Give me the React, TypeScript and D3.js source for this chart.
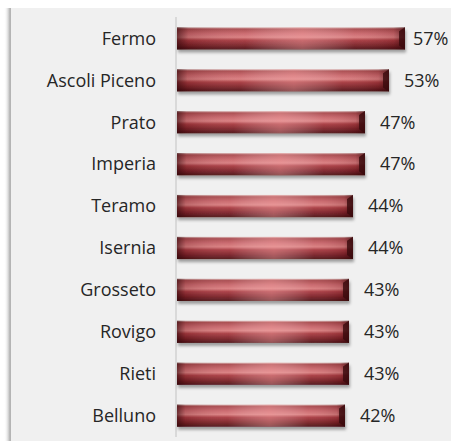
import { useEffect, useRef } from 'react'
import * as d3 from 'd3'

const provinces = ['Fermo', 'Ascoli Piceno', 'Prato', 'Imperia', 'Teramo', 'Isernia', 'Grosseto', 'Rovigo', 'Rieti', 'Belluno']
const shares = [57, 53, 47, 47, 44, 44, 43, 43, 43, 42]

const W = 451
const H = 441

const App = () => {
	const svgRef = useRef(null)

	useEffect(() => {
		const svg = d3.select(svgRef.current)
		svg.selectAll('*').remove()

		const data = provinces.map((p, i) => ({ name: p, value: shares[i] }))

		const defs = svg.append('defs')

		// glossy bar gradient (vertical)
		const vg = defs.append('linearGradient').attr('id', 'barV').attr('x1', 0).attr('y1', 0).attr('x2', 0).attr('y2', 1)
		const vStops = [
			[0, '#dcbcba'],
			[0.08, '#a8484c'],
			[0.28, '#c9656a'],
			[0.45, '#d97c7e'],
			[0.58, '#a83a40'],
			[0.8, '#7c2228'],
			[1, '#4e1216'],
		]
		vStops.forEach(([o, c]) => vg.append('stop').attr('offset', o).attr('stop-color', c))

		// horizontal highlight in the middle, darker ends
		const hg = defs.append('linearGradient').attr('id', 'barH').attr('x1', 0).attr('y1', 0).attr('x2', 1).attr('y2', 0)
		const hStops = [
			[0, '#2a0508', 0.6],
			[0.05, '#2a0508', 0.15],
			[0.3, '#ffffff', 0.05],
			[0.55, '#ffb8b8', 0.4],
			[0.78, '#ffffff', 0.05],
			[0.95, '#2a0508', 0.12],
			[1, '#2a0508', 0.55],
		]
		hStops.forEach(([o, c, a]) =>
			hg.append('stop').attr('offset', o).attr('stop-color', c).attr('stop-opacity', a)
		)

		const shadow = defs.append('filter').attr('id', 'shadow').attr('x', '-5%').attr('y', '-30%').attr('width', '115%').attr('height', '180%')
		shadow.append('feDropShadow').attr('dx', 1).attr('dy', 3).attr('stdDeviation', 1.6).attr('flood-color', '#000').attr('flood-opacity', 0.35)

		const edge = defs.append('linearGradient').attr('id', 'edge').attr('x1', 0).attr('y1', 0).attr('x2', 1).attr('y2', 0)
		edge.append('stop').attr('offset', 0).attr('stop-color', '#ffffff').attr('stop-opacity', 0)
		edge.append('stop').attr('offset', 1).attr('stop-color', '#9a9a9a').attr('stop-opacity', 0.8)

		// background panel
		svg.append('rect').attr('x', 0).attr('y', 0).attr('width', W).attr('height', H).attr('fill', '#ffffff')
		svg.append('rect').attr('x', 4).attr('y', 8).attr('width', 6).attr('height', H - 8).attr('fill', 'url(#edge)')
		svg.append('rect').attr('x', 10).attr('y', 8).attr('width', W - 10).attr('height', H - 8).attr('fill', '#f0f0f0')
		svg.append('line').attr('x1', 10.5).attr('x2', 10.5).attr('y1', 8).attr('y2', H).attr('stroke', '#b4b4b4').attr('stroke-width', 1)

		const y = d3.scaleBand().domain(provinces).range([17, 437]).paddingInner(0.47).paddingOuter(0.245)
		const x = d3.scaleLinear().domain([0, 60]).range([177, 417])

		// category axis line
		svg.append('line')
			.attr('x1', x(0) - 1).attr('x2', x(0) - 1)
			.attr('y1', 17).attr('y2', 437)
			.attr('stroke', '#d9d9d9').attr('stroke-width', 2)

		const bars = svg.append('g').selectAll('g').data(data).enter().append('g')

		bars.append('rect')
			.attr('x', x(0))
			.attr('y', (d) => y(d.name))
			.attr('width', (d) => x(d.value) - x(0))
			.attr('height', y.bandwidth())
			.attr('fill', 'url(#barV)')
			.attr('filter', 'url(#shadow)')

		bars.append('rect')
			.attr('x', x(0))
			.attr('y', (d) => y(d.name))
			.attr('width', (d) => x(d.value) - x(0))
			.attr('height', y.bandwidth())
			.attr('fill', 'url(#barH)')

		// bevelled right end
		bars.append('path')
			.attr('d', (d) => {
				const x1 = x(d.value)
				const y0 = y(d.name)
				const h = y.bandwidth()
				return `M${x1 - 6},${y0 + 4} L${x1},${y0} L${x1},${y0 + h} L${x1 - 6},${y0 + h - 4} Z`
			})
			.attr('fill', '#3a0a0d')
			.attr('opacity', 0.8)

		const font = "'Open Sans', sans-serif"

		// category labels
		svg.append('g').selectAll('text').data(data).enter().append('text')
			.attr('x', 156)
			.attr('y', (d) => y(d.name) + y.bandwidth() / 2)
			.attr('dy', '0.35em')
			.attr('text-anchor', 'end')
			.style('font-family', font)
			.style('font-size', '18px')
			.style('fill', '#262626')
			.text((d) => d.name)

		// value labels
		svg.append('g').selectAll('text').data(data).enter().append('text')
			.attr('x', (d) => Math.min(x(d.value) + 15, 413))
			.attr('y', (d) => y(d.name) + y.bandwidth() / 2)
			.attr('dy', '0.35em')
			.style('font-family', font)
			.style('font-size', '18px')
			.style('fill', '#262626')
			.text((d) => `${d.value}%`)
	}, [])

	return <svg ref={svgRef} width={W} height={H} style={{ position: 'absolute', left: 0, top: 0 }}></svg>
}

export default App
